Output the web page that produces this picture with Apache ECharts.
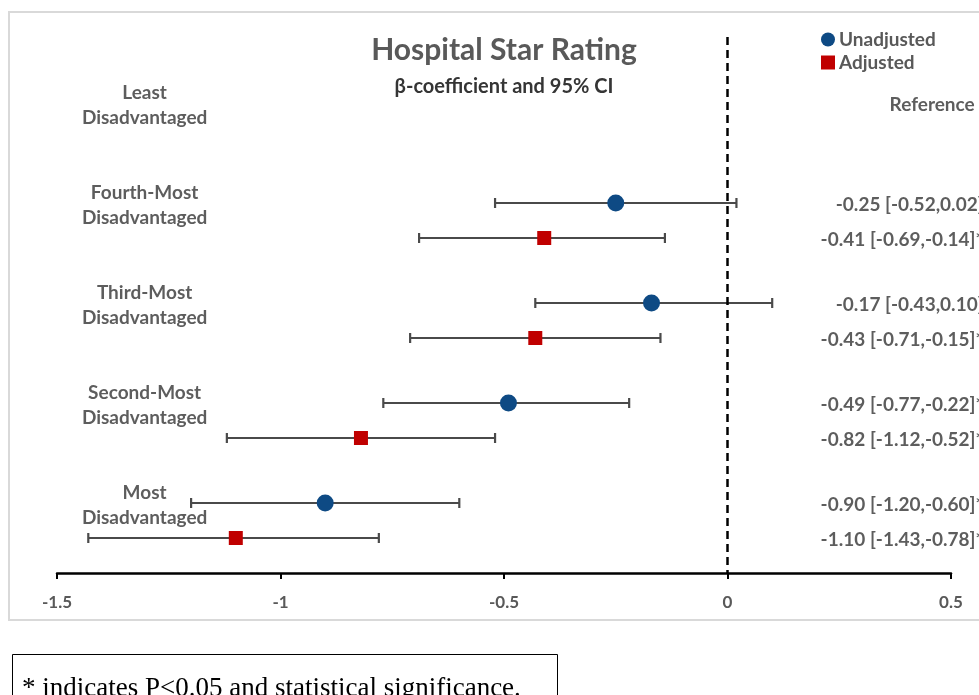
<!DOCTYPE html>
<html>
<head>
<meta charset="utf-8">
<script src="https://cdn.jsdelivr.net/npm/echarts@6/dist/echarts.min.js"></script>
<style>html,body{margin:0;padding:0;background:#fff}#c{width:979px;height:695px}</style>
</head>
<body>
<div id="c"></div>
<script>
const groups = ['Least\nDisadvantaged', 'Fourth-Most\nDisadvantaged', 'Third-Most\nDisadvantaged', 'Second-Most\nDisadvantaged', 'Most\nDisadvantaged'];
// index 0 = reference group (no estimate)
const unadjEst  = [null, -0.25, -0.17, -0.49, -0.90];
const unadjLow  = [null, -0.52, -0.43, -0.77, -1.20];
const unadjHigh = [null,  0.02,  0.10, -0.22, -0.60];
const adjEst    = [null, -0.41, -0.43, -0.82, -1.10];
const adjLow    = [null, -0.69, -0.71, -1.12, -1.43];
const adjHigh   = [null, -0.14, -0.15, -0.52, -0.78];
const unadjSig  = [false, false, false, true, true];
const adjSig    = [false, true, true, true, true];
const xTicks = [-1.5, -1, -0.5, 0, 0.5];

const ADJ_OFF = 0.35;
const fmt = v => v.toFixed(2);
const ci = (e, l, h, s) => fmt(e) + ' [' + fmt(l) + ',' + fmt(h) + ']' + (s ? '*' : '');

const unadjPts = [], adjPts = [], unadjBars = [], adjBars = [], rightLabels = [], leftLabels = [];
groups.forEach((g, i) => {
  leftLabels.push({value: [-1.304, i + 0.02], name: g});
  if (unadjEst[i] === null) {
    rightLabels.push({value: [0.553, i + 0.02], name: 'Reference'});
    return;
  }
  unadjPts.push([unadjEst[i], i]);
  adjPts.push([adjEst[i], i + ADJ_OFF]);
  unadjBars.push([i, unadjLow[i], unadjHigh[i]]);
  adjBars.push([i + ADJ_OFF, adjLow[i], adjHigh[i]]);
  rightLabels.push({value: [0.573, i + 0.02], name: ci(unadjEst[i], unadjLow[i], unadjHigh[i], unadjSig[i])});
  rightLabels.push({value: [0.573, i + ADJ_OFF + 0.02], name: ci(adjEst[i], adjLow[i], adjHigh[i], adjSig[i])});
});

const FONT = 'Lato, "Open Sans", sans-serif';
const TXT = '#353535';

function errBar(params, api) {
  const y = api.value(0);
  const a = api.coord([api.value(1), y]);
  const b = api.coord([api.value(2), y]);
  const c = 5;
  const st = {stroke: '#4a4a4a', lineWidth: 2.2};
  return {type: 'group', children: [
    {type: 'line', shape: {x1: a[0], y1: a[1], x2: b[0], y2: b[1]}, style: st},
    {type: 'line', shape: {x1: a[0], y1: a[1] - c, x2: a[0], y2: a[1] + c}, style: st},
    {type: 'line', shape: {x1: b[0], y1: b[1] - c, x2: b[0], y2: b[1] + c}, style: st}
  ]};
}

const chart = echarts.init(document.getElementById('c'), null, {renderer: 'canvas'});
chart.setOption({
  animation: false,
  backgroundColor: '#fff',
  title: {
    text: 'Hospital Star Rating',
    subtext: 'β-coefficient and 95% CI',
    left: 499, top: 30, textAlign: 'center', itemGap: 12,
    textStyle: {fontFamily: FONT, fontSize: 30, fontWeight: 'bold', color: '#595959'},
    subtextStyle: {fontFamily: FONT, fontSize: 20, fontWeight: 'bold', color: TXT}
  },
  legend: {
    orient: 'vertical', left: 816, top: 25, itemGap: 4, itemWidth: 14, itemHeight: 14,
    textStyle: {fontFamily: FONT, fontSize: 19, fontWeight: 'bold', color: '#595959', padding: [0, 0, 0, -1]},
    data: [{name: 'Unadjusted', icon: 'circle', itemStyle: {color: '#0e4a84'}},
           {name: 'Adjusted', icon: 'rect', itemStyle: {color: '#c00000'}}]
  },
  grid: {left: 57, right: 28, top: 37, bottom: 122},
  xAxis: {
    type: 'value', min: -1.5, max: 0.5, interval: 0.5,
    splitLine: {show: false},
    axisLine: {show: true, onZero: false, lineStyle: {color: '#000', width: 2.5}},
    axisTick: {show: true, inside: false, length: 6, lineStyle: {color: '#000', width: 2}},
    axisLabel: {margin: 21, fontFamily: FONT, fontSize: 17, fontWeight: 'bold', color: '#595959',
      formatter: v => String(xTicks.find(t => Math.abs(t - v) < 1e-9) ?? v)}
  },
  yAxis: {
    type: 'value', inverse: true, min: -0.66, max: 4.7,
    show: false, splitLine: {show: false}, axisLine: {onZero: false}
  },
  series: [
    {type: 'custom', name: 'uBars', renderItem: errBar, data: unadjBars, z: 2, silent: true,
      encode: {x: [1, 2], y: 0},
      markLine: {silent: true, symbol: 'none', label: {show: false},
        lineStyle: {color: '#000', width: 2.5, type: [8, 5]}, data: [{xAxis: 0}]}},
    {type: 'custom', name: 'aBars', renderItem: errBar, data: adjBars, z: 2, silent: true,
      encode: {x: [1, 2], y: 0}},
    {type: 'scatter', name: 'Unadjusted', data: unadjPts, symbol: 'circle', symbolSize: 17,
      itemStyle: {color: '#0e4a84', opacity: 1}, z: 5},
    {type: 'scatter', name: 'Adjusted', data: adjPts, symbol: 'rect', symbolSize: 14,
      itemStyle: {color: '#c00000', opacity: 1}, z: 5},
    {type: 'scatter', name: 'leftLab', data: leftLabels, symbolSize: 0, clip: false, silent: true,
      label: {show: true, position: 'inside', formatter: p => p.name, align: 'center', verticalAlign: 'middle',
        fontFamily: FONT, fontSize: 19, fontWeight: 'bold', color: TXT, lineHeight: 25}},
    {type: 'scatter', name: 'rightLab', data: rightLabels, symbolSize: 0, clip: false, silent: true,
      label: {show: true, position: 'inside', formatter: p => p.name, align: 'right', verticalAlign: 'middle',
        fontFamily: FONT, fontSize: 19, fontWeight: 'bold', color: TXT}}
  ],
  graphic: [
    {type: 'rect', shape: {x: 9, y: 12, width: 980, height: 608}, style: {fill: 'none', stroke: '#d9d9d9', lineWidth: 2}, z: -1},
    {type: 'rect', shape: {x: 12.5, y: 654.5, width: 545, height: 60}, style: {fill: 'none', stroke: '#000', lineWidth: 1}},
    {type: 'text', x: 22, y: 689, style: {text: '* indicates P<0.05 and statistical significance.',
      font: '27px "Liberation Serif", serif', fill: '#000', textVerticalAlign: 'middle'}}
  ]
});
</script>
</body>
</html>
